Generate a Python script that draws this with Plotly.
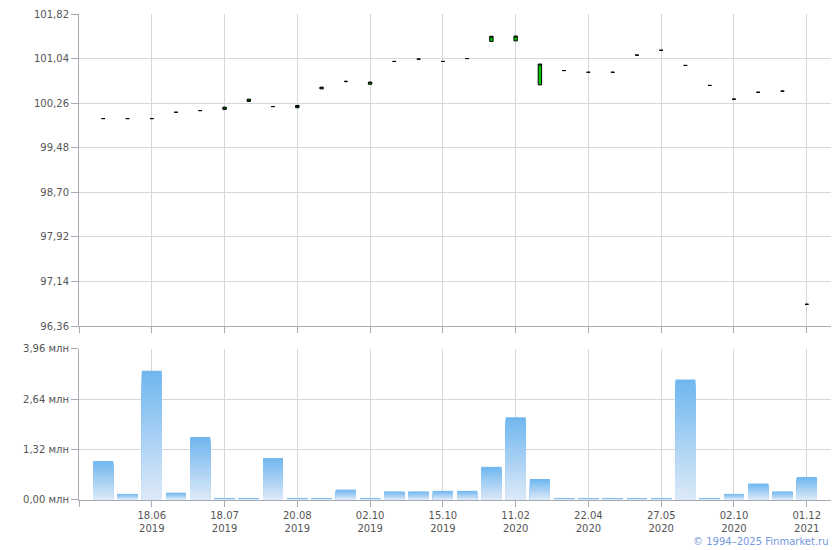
import plotly.graph_objects as go

# ---- data ----
x_idx = list(range(30))
open_ = [99.99, 99.99, 99.99, 100.10, 100.13, 100.15, 100.29, 100.20, 100.18, 100.51,
         100.64, 100.59, 100.99, 101.03, 100.99, 101.04, 101.34, 101.35, 100.58, 100.83,
         100.80, 100.80, 101.10, 101.185, 100.92, 100.57, 100.33, 100.45, 100.47, 96.74]
close = [99.99, 99.99, 99.99, 100.10, 100.13, 100.19, 100.33, 100.20, 100.22, 100.54,
         100.64, 100.63, 100.99, 101.03, 100.99, 101.04, 101.43, 101.435, 100.945, 100.83,
         100.80, 100.80, 101.10, 101.185, 100.92, 100.57, 100.33, 100.45, 100.47, 96.74]
high = [99.99, 99.99, 99.99, 100.10, 100.13, 100.19, 100.33, 100.20, 100.22, 100.54,
        100.655, 100.63, 100.99, 101.03, 100.99, 101.04, 101.43, 101.435, 100.945, 100.83,
        100.80, 100.80, 101.10, 101.185, 100.92, 100.57, 100.33, 100.45, 100.47, 96.74]
low = [99.99, 99.99, 99.99, 100.10, 100.13, 100.15, 100.29, 100.20, 100.18, 100.51,
       100.62, 100.59, 100.99, 101.03, 100.99, 101.04, 101.34, 101.35, 100.58, 100.83,
       100.80, 100.80, 101.10, 101.185, 100.92, 100.57, 100.33, 100.45, 100.47, 96.74]
volume_mln = [1.02, 0.16, 3.39, 0.19, 1.65, 0.03, 0.03, 1.10, 0.03, 0.03,
              0.27, 0.03, 0.22, 0.22, 0.24, 0.24, 0.87, 2.17, 0.55, 0.03,
              0.03, 0.03, 0.03, 0.03, 3.16, 0.03, 0.16, 0.43, 0.22, 0.60]

price_ticks = [96.36, 97.14, 97.92, 98.70, 99.48, 100.26, 101.04, 101.82]
volume_ticks = [0.00, 1.32, 2.64, 3.96]
date_tick_idx = [2, 5, 8, 11, 14, 17, 20, 23, 26, 29]
date_tick_labels = ["18.06<br>2019", "18.07<br>2019", "20.08<br>2019", "02.10<br>2019",
                    "15.10<br>2019", "11.02<br>2020", "22.04<br>2020", "27.05<br>2020",
                    "02.10<br>2020", "01.12<br>2021"]

GRID = "#d3d8dd"
AXIS = "#a6aab2"
TXT = "#555555"

fig = go.Figure()

fig.add_trace(go.Candlestick(
    x=x_idx, open=open_, high=high, low=low, close=close,
    increasing=dict(line=dict(color="black", width=1), fillcolor="#00c800"),
    decreasing=dict(line=dict(color="black", width=1), fillcolor="#00c800"),
    whiskerwidth=0, xaxis="x", yaxis="y", hoverinfo="skip", showlegend=False,
))

# gradient-filled volume bars: overlapping bars, each shorter one drawn lighter on top
K = 60
top_rgb = (0x70, 0xb7, 0xef)
bot_rgb = (0xde, 0xea, 0xf8)
for k in range(K):
    frac = (K - k) / K
    c = tuple(round(bot_rgb[i] + (top_rgb[i] - bot_rgb[i]) * frac) for i in range(3))
    fig.add_trace(go.Bar(
        x=x_idx,
        y=[v * frac for v in volume_mln],
        marker=dict(color="rgb(%d,%d,%d)" % c, line=dict(width=0)),
        xaxis="x2", yaxis="y2", hoverinfo="skip", showlegend=False,
    ))

tickvals_x = [-1] + date_tick_idx
ticktext_x = [""] + date_tick_labels
vol_text = [("%.2f" % v).replace(".", ",") + " млн" for v in volume_ticks]

common_x = dict(
    range=[-1, 30], tickmode="array", tickvals=tickvals_x,
    showgrid=True, gridcolor=GRID, gridwidth=1,
    showline=True, linecolor=AXIS, linewidth=1,
    ticks="outside", ticklen=6, tickcolor=AXIS,
    zeroline=False, automargin=False,
)

fig.update_layout(
    width=840, height=550,
    margin=dict(l=79, r=9, t=14, b=50, autoexpand=False),
    paper_bgcolor="white", plot_bgcolor="white",
    font=dict(family="DejaVu Sans", size=10, color=TXT),
    separators=", ",
    barmode="overlay", bargap=0.18, boxgap=0.8,
    showlegend=False,
    xaxis=dict(common_x, anchor="y", showticklabels=False, rangeslider=dict(visible=False)),
    xaxis2=dict(common_x, anchor="y2", ticktext=ticktext_x, matches="x",
                tickfont=dict(size=10, color=TXT)),
    yaxis=dict(domain=[0.358, 1.0], range=[96.36, 101.82], tickmode="array",
               tickvals=price_ticks, tickformat=".2f",
               showgrid=True, gridcolor=GRID, showline=True, linecolor=AXIS,
               ticks="outside", ticklen=7, tickcolor=AXIS, zeroline=False,
               automargin=False, tickfont=dict(size=10, color=TXT)),
    yaxis2=dict(domain=[0.0, 0.3107], range=[0, 3.96], tickmode="array",
                tickvals=volume_ticks, ticktext=vol_text,
                showgrid=True, gridcolor=GRID, showline=True, linecolor=AXIS,
                ticks="outside", ticklen=7, tickcolor=AXIS, zeroline=False,
                automargin=False, tickfont=dict(size=10, color=TXT)),
    annotations=[dict(
        text="© 1994–2025 Finmarket.ru", xref="paper", yref="paper",
        x=1.0, y=-0.086, xanchor="right", yanchor="middle", showarrow=False,
        font=dict(family="DejaVu Sans", size=10, color="#7597e0"),
    )],
)

fig.write_html("out.html", config={"displayModeBar": False},
               post_script="document.body.style.margin='0';")
